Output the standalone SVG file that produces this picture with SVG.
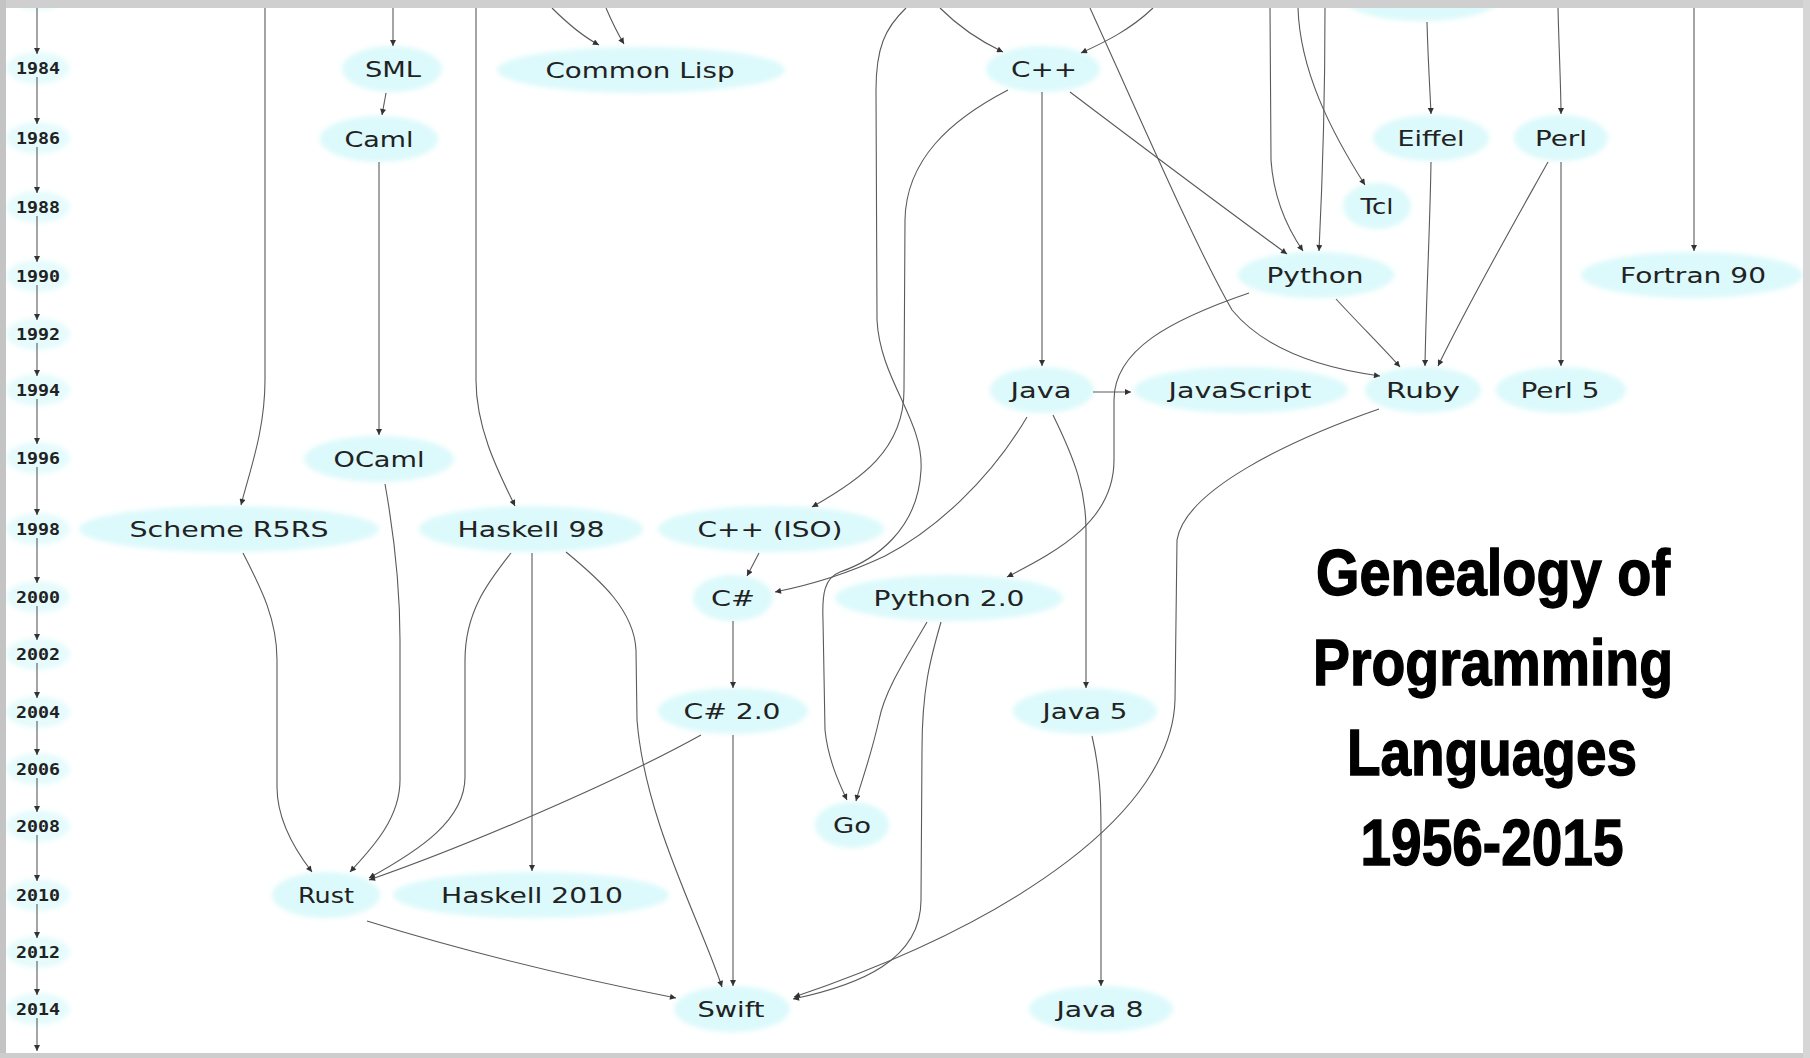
<svg xmlns="http://www.w3.org/2000/svg" width="1810" height="1058" viewBox="0 0 1810 1058">
  <defs>
    <filter id="soft" x="-20%" y="-40%" width="140%" height="180%">
      <feGaussianBlur stdDeviation="2.5"/>
    </filter>
    <marker id="arr" viewBox="0 0 10 10" refX="10" refY="5" markerWidth="7" markerHeight="6" orient="auto" markerUnits="userSpaceOnUse">
      <path d="M0,0 L10,5 L0,10 z" fill="#333"/>
    </marker>
    <style>
      .node ellipse { fill: #dcf9fb; filter: url(#soft); }
      .year ellipse { fill: #e6fbfc; filter: url(#soft); }
      .node text { font-family: "DejaVu Sans", "Liberation Sans", sans-serif; font-size: 22px; fill: #222; text-anchor: middle; }
      .year text { font-family: "DejaVu Sans Mono", "Liberation Mono", monospace; font-weight: bold; font-size: 15px; fill: #222; text-anchor: middle; }
      .edges path { fill: none; stroke: #5a5a5a; stroke-width: 1.1; marker-end: url(#arr); }
      .title text { font-family: "Liberation Sans Narrow", "Liberation Sans", "Roboto", sans-serif; font-weight: bold; font-size: 65px; fill: #000; stroke: #000; stroke-width: 1.4; text-anchor: middle; }
    </style>
  </defs>

  <rect x="0" y="0" width="1810" height="1058" fill="#ffffff"/>

  <!-- year axis -->
  <g id="years">
    <g class="year" id="y1982"><ellipse cx="38" cy="-8" rx="32" ry="18"/></g>
    <g class="year" id="y1984"><ellipse cx="38" cy="68" rx="32" ry="16"/><text x="38" y="74" textLength="44" lengthAdjust="spacingAndGlyphs">1984</text></g>
    <g class="year" id="y1986"><ellipse cx="38" cy="138" rx="32" ry="16"/><text x="38" y="144" textLength="44" lengthAdjust="spacingAndGlyphs">1986</text></g>
    <g class="year" id="y1988"><ellipse cx="38" cy="207" rx="32" ry="16"/><text x="38" y="213" textLength="44" lengthAdjust="spacingAndGlyphs">1988</text></g>
    <g class="year" id="y1990"><ellipse cx="38" cy="276" rx="32" ry="16"/><text x="38" y="282" textLength="44" lengthAdjust="spacingAndGlyphs">1990</text></g>
    <g class="year" id="y1992"><ellipse cx="38" cy="334" rx="32" ry="16"/><text x="38" y="340" textLength="44" lengthAdjust="spacingAndGlyphs">1992</text></g>
    <g class="year" id="y1994"><ellipse cx="38" cy="390" rx="32" ry="16"/><text x="38" y="396" textLength="44" lengthAdjust="spacingAndGlyphs">1994</text></g>
    <g class="year" id="y1996"><ellipse cx="38" cy="458" rx="32" ry="16"/><text x="38" y="464" textLength="44" lengthAdjust="spacingAndGlyphs">1996</text></g>
    <g class="year" id="y1998"><ellipse cx="38" cy="529" rx="32" ry="16"/><text x="38" y="535" textLength="44" lengthAdjust="spacingAndGlyphs">1998</text></g>
    <g class="year" id="y2000"><ellipse cx="38" cy="597" rx="32" ry="16"/><text x="38" y="603" textLength="44" lengthAdjust="spacingAndGlyphs">2000</text></g>
    <g class="year" id="y2002"><ellipse cx="38" cy="654" rx="32" ry="16"/><text x="38" y="660" textLength="44" lengthAdjust="spacingAndGlyphs">2002</text></g>
    <g class="year" id="y2004"><ellipse cx="38" cy="712" rx="32" ry="16"/><text x="38" y="718" textLength="44" lengthAdjust="spacingAndGlyphs">2004</text></g>
    <g class="year" id="y2006"><ellipse cx="38" cy="769" rx="32" ry="16"/><text x="38" y="775" textLength="44" lengthAdjust="spacingAndGlyphs">2006</text></g>
    <g class="year" id="y2008"><ellipse cx="38" cy="826" rx="32" ry="16"/><text x="38" y="832" textLength="44" lengthAdjust="spacingAndGlyphs">2008</text></g>
    <g class="year" id="y2010"><ellipse cx="38" cy="895" rx="32" ry="16"/><text x="38" y="901" textLength="44" lengthAdjust="spacingAndGlyphs">2010</text></g>
    <g class="year" id="y2012"><ellipse cx="38" cy="952" rx="32" ry="16"/><text x="38" y="958" textLength="44" lengthAdjust="spacingAndGlyphs">2012</text></g>
    <g class="year" id="y2014"><ellipse cx="38" cy="1009" rx="32" ry="16"/><text x="38" y="1015" textLength="44" lengthAdjust="spacingAndGlyphs">2014</text></g>
  </g>

  <!-- language nodes -->
  <g id="nodes">
    <g class="node" id="n-top"><ellipse cx="1422" cy="-2" rx="78" ry="23"/></g>
    <g class="node" id="n-sml"><ellipse cx="392" cy="69" rx="50" ry="23"/><text x="393" y="77" textLength="56" lengthAdjust="spacingAndGlyphs">SML</text></g>
    <g class="node" id="n-commonlisp"><ellipse cx="641" cy="70" rx="144" ry="23"/><text x="640" y="78" textLength="189" lengthAdjust="spacingAndGlyphs">Common Lisp</text></g>
    <g class="node" id="n-cpp"><ellipse cx="1043" cy="69" rx="57" ry="23"/><text x="1044" y="77" textLength="66" lengthAdjust="spacingAndGlyphs">C++</text></g>
    <g class="node" id="n-caml"><ellipse cx="379" cy="139" rx="59" ry="23"/><text x="379" y="147" textLength="69" lengthAdjust="spacingAndGlyphs">Caml</text></g>
    <g class="node" id="n-eiffel"><ellipse cx="1431" cy="138" rx="58" ry="23"/><text x="1431" y="146" textLength="67" lengthAdjust="spacingAndGlyphs">Eiffel</text></g>
    <g class="node" id="n-perl"><ellipse cx="1561" cy="138" rx="47" ry="23"/><text x="1561" y="146" textLength="52" lengthAdjust="spacingAndGlyphs">Perl</text></g>
    <g class="node" id="n-tcl"><ellipse cx="1377" cy="206" rx="34" ry="23"/><text x="1377" y="214" textLength="33" lengthAdjust="spacingAndGlyphs">Tcl</text></g>
    <g class="node" id="n-python"><ellipse cx="1316" cy="275" rx="78" ry="23"/><text x="1315" y="283" textLength="97" lengthAdjust="spacingAndGlyphs">Python</text></g>
    <g class="node" id="n-fortran90"><ellipse cx="1692" cy="275" rx="111" ry="23"/><text x="1693" y="283" textLength="146" lengthAdjust="spacingAndGlyphs">Fortran 90</text></g>
    <g class="node" id="n-java"><ellipse cx="1042" cy="390" rx="52" ry="23"/><text x="1041" y="398" textLength="61" lengthAdjust="spacingAndGlyphs">Java</text></g>
    <g class="node" id="n-javascript"><ellipse cx="1241" cy="390" rx="107" ry="23"/><text x="1240" y="398" textLength="143" lengthAdjust="spacingAndGlyphs">JavaScript</text></g>
    <g class="node" id="n-ruby"><ellipse cx="1423" cy="390" rx="58" ry="23"/><text x="1423" y="398" textLength="74" lengthAdjust="spacingAndGlyphs">Ruby</text></g>
    <g class="node" id="n-perl5"><ellipse cx="1561" cy="390" rx="65" ry="23"/><text x="1560" y="398" textLength="79" lengthAdjust="spacingAndGlyphs">Perl 5</text></g>
    <g class="node" id="n-ocaml"><ellipse cx="379" cy="459" rx="75" ry="23"/><text x="379" y="467" textLength="91" lengthAdjust="spacingAndGlyphs">OCaml</text></g>
    <g class="node" id="n-scheme"><ellipse cx="229" cy="529" rx="150" ry="23"/><text x="229" y="537" textLength="199" lengthAdjust="spacingAndGlyphs">Scheme R5RS</text></g>
    <g class="node" id="n-haskell98"><ellipse cx="531" cy="529" rx="112" ry="23"/><text x="531" y="537" textLength="147" lengthAdjust="spacingAndGlyphs">Haskell 98</text></g>
    <g class="node" id="n-cppiso"><ellipse cx="771" cy="529" rx="113" ry="23"/><text x="770" y="537" textLength="145" lengthAdjust="spacingAndGlyphs">C++ (ISO)</text></g>
    <g class="node" id="n-csharp"><ellipse cx="733" cy="598" rx="40" ry="23"/><text x="733" y="606" textLength="44" lengthAdjust="spacingAndGlyphs">C#</text></g>
    <g class="node" id="n-python2"><ellipse cx="949" cy="598" rx="114" ry="23"/><text x="949" y="606" textLength="151" lengthAdjust="spacingAndGlyphs">Python 2.0</text></g>
    <g class="node" id="n-csharp2"><ellipse cx="733" cy="711" rx="75" ry="23"/><text x="732" y="719" textLength="97" lengthAdjust="spacingAndGlyphs">C# 2.0</text></g>
    <g class="node" id="n-java5"><ellipse cx="1085" cy="711" rx="72" ry="23"/><text x="1085" y="719" textLength="85" lengthAdjust="spacingAndGlyphs">Java 5</text></g>
    <g class="node" id="n-go"><ellipse cx="852" cy="825" rx="37" ry="23"/><text x="852" y="833" textLength="38" lengthAdjust="spacingAndGlyphs">Go</text></g>
    <g class="node" id="n-rust"><ellipse cx="326" cy="895" rx="54" ry="23"/><text x="326" y="903" textLength="56" lengthAdjust="spacingAndGlyphs">Rust</text></g>
    <g class="node" id="n-haskell2010"><ellipse cx="531" cy="895" rx="138" ry="23"/><text x="532" y="903" textLength="182" lengthAdjust="spacingAndGlyphs">Haskell 2010</text></g>
    <g class="node" id="n-swift"><ellipse cx="732" cy="1009" rx="58" ry="23"/><text x="731" y="1017" textLength="67" lengthAdjust="spacingAndGlyphs">Swift</text></g>
    <g class="node" id="n-java8"><ellipse cx="1101" cy="1009" rx="72" ry="23"/><text x="1100" y="1017" textLength="87" lengthAdjust="spacingAndGlyphs">Java 8</text></g>
  </g>

  <!-- connectors -->
  <g class="edges" id="edges">
    <!-- year axis -->
    <path d="M37,8 L37,54"/>
    <path d="M37,77 L37,124"/>
    <path d="M37,147 L37,193"/>
    <path d="M37,216 L37,262"/>
    <path d="M37,285 L37,320"/>
    <path d="M37,343 L37,376"/>
    <path d="M37,399 L37,444"/>
    <path d="M37,467 L37,515"/>
    <path d="M37,538 L37,583"/>
    <path d="M37,606 L37,640"/>
    <path d="M37,663 L37,698"/>
    <path d="M37,721 L37,755"/>
    <path d="M37,778 L37,812"/>
    <path d="M37,835 L37,881"/>
    <path d="M37,904 L37,938"/>
    <path d="M37,961 L37,995"/>
    <path d="M37,1018 L37,1051"/>

    <!-- languages -->
    <path d="M393,8 L393,46"/>
    <path d="M552,8 C568,24 584,37 599,45"/>
    <path d="M606,8 C612,22 618,34 624,44"/>
    <path d="M940,8 C962,30 982,42 1003,52"/>
    <path d="M1153,8 C1130,30 1105,42 1081,53"/>
    <path d="M1090,8 C1150,140 1195,245 1232,310 C1265,350 1320,368 1380,376"/>
    <path d="M906,8 C885,28 876,48 876,90 L877,320 C880,380 924,420 921,470 C918,530 875,560 840,572 C824,578 822,595 823,620 L825,730 C828,760 840,785 847,800"/>
    <path d="M1270,8 L1271,160 C1274,205 1292,235 1303,251"/>
    <path d="M1325,8 C1325,100 1322,190 1319,251"/>
    <path d="M1298,8 C1300,70 1330,130 1365,185"/>
    <path d="M1427,22 C1428,60 1430,90 1431,114"/>
    <path d="M1558,8 C1559,50 1561,90 1561,114"/>
    <path d="M1694,8 L1694,251"/>
    <path d="M265,8 L265,380 C265,430 250,470 241,505"/>
    <path d="M476,8 L476,380 C476,430 500,475 515,506"/>
    <path d="M386,93 L382,115"/>
    <path d="M379,162 L379,435"/>
    <path d="M1042,92 L1042,366"/>
    <path d="M1008,90 C950,120 906,160 905,220 L904,390 C904,450 860,480 812,507"/>
    <path d="M1070,92 C1140,145 1220,205 1287,254"/>
    <path d="M1336,299 C1360,325 1385,350 1400,367"/>
    <path d="M1431,162 C1430,230 1426,300 1425,366"/>
    <path d="M1548,162 C1510,230 1470,300 1438,366"/>
    <path d="M1561,162 L1561,366"/>
    <path d="M1249,293 C1170,320 1114,350 1114,400 L1114,460 C1114,520 1060,550 1007,577"/>
    <path d="M1093,392 L1131,392"/>
    <path d="M1027,417 C990,480 935,530 885,556 C845,575 805,586 775,592"/>
    <path d="M1053,415 C1075,460 1086,490 1086,530 L1086,688"/>
    <path d="M1379,409 C1290,440 1185,490 1177,540 L1175,700 C1172,810 1020,920 794,997"/>
    <path d="M385,484 C395,540 400,590 400,640 L400,780 C400,820 370,850 350,872"/>
    <path d="M243,553 C262,590 277,620 277,660 L277,787 C277,820 295,850 312,872"/>
    <path d="M511,553 C490,580 465,610 465,660 L465,777 C465,820 420,850 369,878"/>
    <path d="M532,553 L532,871"/>
    <path d="M566,552 C600,580 634,610 636,650 L637,720 C645,820 700,920 722,987"/>
    <path d="M759,553 L747,576"/>
    <path d="M733,621 L733,688"/>
    <path d="M927,622 C905,660 885,690 879,720 C870,760 860,785 856,801"/>
    <path d="M941,622 C930,660 922,690 922,750 L921,900 C921,960 860,985 793,999"/>
    <path d="M701,735 C620,780 470,845 369,880"/>
    <path d="M733,735 L733,986"/>
    <path d="M367,921 C460,950 560,975 676,998"/>
    <path d="M1092,736 C1100,770 1101,800 1101,830 L1101,986"/>
  </g>

  <!-- heading -->
  <g class="title" id="title">
    <text x="1493" y="595" textLength="354" lengthAdjust="spacingAndGlyphs">Genealogy of</text>
    <text x="1493" y="685" textLength="360" lengthAdjust="spacingAndGlyphs">Programming</text>
    <text x="1492" y="775" textLength="290" lengthAdjust="spacingAndGlyphs">Languages</text>
    <text x="1492" y="865" textLength="263" lengthAdjust="spacingAndGlyphs">1956-2015</text>
  </g>

  <!-- grey frame -->
  <g id="frame">
    <rect x="0" y="0" width="1810" height="8" fill="#cfcfcf"/>
    <rect x="0" y="0" width="6" height="1058" fill="#c4c4c4"/>
    <rect x="0" y="1053" width="1810" height="5" fill="#cdcdcd"/>
    <rect x="1803" y="0" width="7" height="1058" fill="#d6d6d6"/>
  </g>
</svg>
